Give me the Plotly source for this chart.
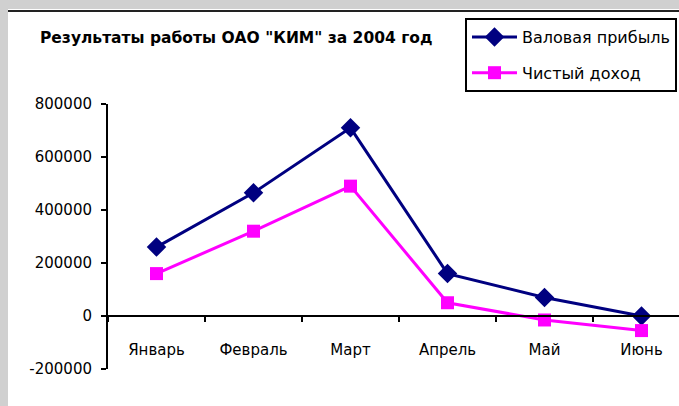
import plotly.graph_objects as go

months = ["Январь", "Февраль", "Март", "Апрель", "Май", "Июнь"]
gross_profit = [260000, 465000, 710000, 160000, 70000, 0]
net_income = [160000, 320000, 490000, 50000, -15000, -55000]
y_ticks = [-200000, 0, 200000, 400000, 600000, 800000]
y_tick_labels = ["-200000", "0", "200000", "400000", "600000", "800000"]
title_text = 'Результаты работы ОАО "КИМ" за 2004 год'

W, H = 679, 406
L, R, T, B = 108, 0, 104, 37
pw, ph = W - L - R, H - T - B


def px(x):
    return (x - L) / pw


def py(y):
    return (H - B - y) / ph


FONT = "DejaVu Sans"
GRAY = "#d0d0d0"

fig = go.Figure()
fig.add_trace(go.Scatter(
    x=months, y=gross_profit, name="Валовая прибыль", mode="lines+markers",
    line=dict(color="#000080", width=3),
    marker=dict(symbol="diamond", size=15, color="#000080"),
    legendgroup="a",
))
fig.add_trace(go.Scatter(
    x=months, y=net_income, name="Чистый доход", mode="lines+markers",
    line=dict(color="#ff00ff", width=3),
    marker=dict(symbol="square", size=13, color="#ff00ff"),
    legendgroup="b",
))

fig.update_layout(
    width=W, height=H, autosize=False,
    margin=dict(l=L, r=R, t=T, b=B, pad=0),
    paper_bgcolor="white",
    plot_bgcolor="white",
    font=dict(family=FONT, size=14, color="black"),
    title=dict(text=title_text, x=40 / W, xanchor="left", xref="container",
               y=1 - 38 / H, yanchor="middle", yref="container",
               font=dict(family=FONT, size=15.5, color="black", weight="bold")),
    showlegend=True,
    legend=dict(x=px(465), y=py(18), xanchor="left", yanchor="top",
                bgcolor="white", bordercolor="black", borderwidth=2,
                font=dict(family=FONT, size=16),
                traceorder="grouped", tracegroupgap=12, itemwidth=45),
    shapes=[
        dict(type="rect", xref="paper", yref="paper", x0=px(-5), x1=px(8),
             y0=py(H + 5), y1=py(-5), fillcolor=GRAY, line=dict(width=0),
             layer="below"),
        dict(type="rect", xref="paper", yref="paper", x0=px(-5), x1=px(W + 5),
             y0=py(9), y1=py(-5), fillcolor=GRAY, line=dict(width=0),
             layer="below"),
        dict(type="line", xref="paper", yref="paper", x0=px(8), x1=px(W + 5),
             y0=py(11), y1=py(11), line=dict(color="#222222", width=2)),
    ],
)

fig.update_xaxes(
    type="category", categoryorder="array", categoryarray=months,
    range=[-0.5, -0.5 + pw / 97.0], anchor="free", position=py(316),
    showline=True, linecolor="black", linewidth=2,
    ticks="outside", tickson="boundaries", ticklen=5, tickcolor="black", tickwidth=2,
    ticklabelstandoff=20, showgrid=False, zeroline=False,
    tickfont=dict(family=FONT, size=15, color="black"),
)
fig.update_yaxes(
    range=[-200000, 800000], tickvals=y_ticks, ticktext=y_tick_labels,
    showline=True, linecolor="black", linewidth=2,
    ticks="outside", ticklen=5, tickcolor="black", tickwidth=2,
    ticklabelstandoff=6, showgrid=False, zeroline=False,
    tickfont=dict(family=FONT, size=15, color="black"),
)

fig.write_html(
    "out.html",
    config={"displayModeBar": False, "responsive": False},
    post_script="document.body.style.margin='0';"
                "document.body.style.padding='0';"
                "document.documentElement.style.overflow='hidden';"
                "document.body.style.overflow='hidden';",
)
